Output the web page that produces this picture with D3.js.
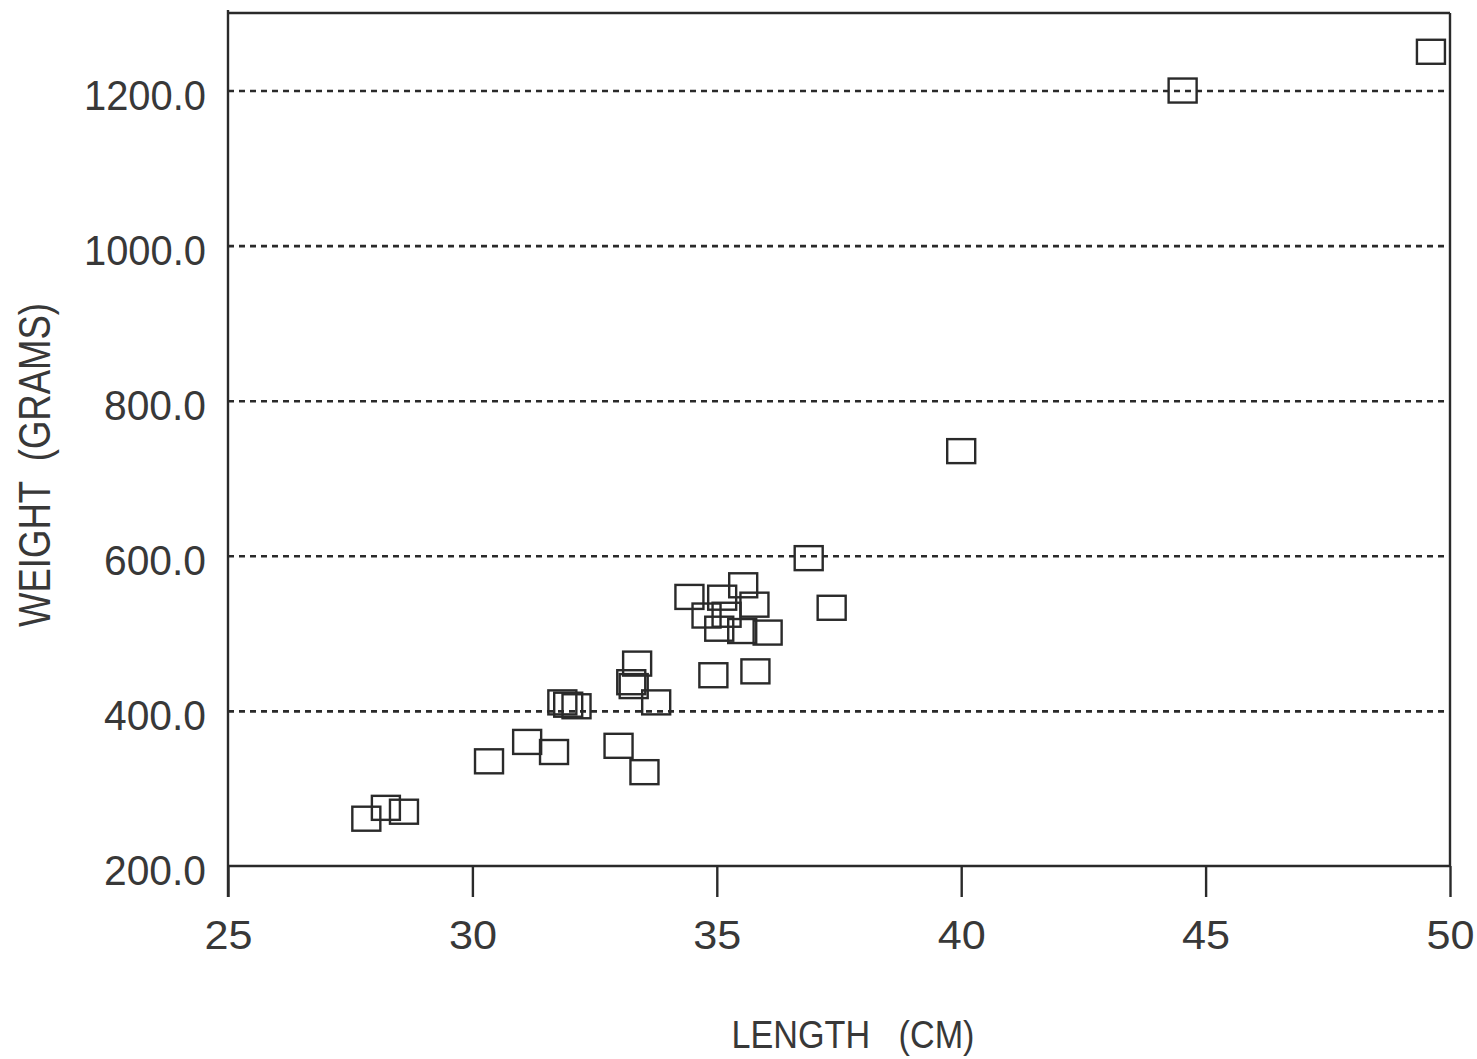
<!DOCTYPE html>
<html>
<head>
<meta charset="utf-8">
<script src="https://cdn.jsdelivr.net/npm/d3@7"></script>
<style>
  html, body { margin: 0; padding: 0; background: #ffffff; }
  svg { display: block; }
  text { font-family: "Liberation Sans", Arial, sans-serif; fill: #383838; white-space: pre; }
</style>
</head>
<body>
<svg id="chart" width="1477" height="1059"></svg>
<script>
// ---- data ----
const lengths = [49.61, 44.53, 40.00, 36.88, 37.35, 34.44, 35.54, 35.11, 34.79, 35.05, 35.77, 35.52, 36.04, 35.20,
                 34.93, 35.79, 33.37, 33.25, 33.30, 33.76, 31.84, 31.96, 32.13, 31.12, 31.67, 30.34, 32.99, 33.52,
                 27.83, 28.23, 28.60];
const weights = [1250, 1200, 735, 597, 533, 547, 562, 546, 523, 506, 537, 503, 501, 524,
                 446, 451, 461, 437, 432, 411, 411, 408, 406, 360, 347, 335, 355, 321,
                 261, 275, 270];
const xTicks = [25, 30, 35, 40, 45, 50];
const yTicks = [200, 400, 600, 800, 1000, 1200];
const gridTicks = [400, 600, 800, 1000, 1200];
const xTitle = "LENGTH   (CM)";
const yTitle = "WEIGHT  (GRAMS)";

(function () {
// ---- layout ----
const svg = d3.select("#chart");
const mLeft = 228, mRight = 1450, mTop = 13, mBottom = 866;
const x = d3.scaleLinear().domain([25, 50]).range([mLeft, mRight]);
const y = d3.scaleLinear().domain([200, 1300]).range([mBottom, mTop]);
const ink = "#2a2a2a";

// gridlines
const grid = svg.append("g").attr("transform", `translate(${mLeft},0)`)
  .call(d3.axisLeft(y).tickValues(gridTicks).tickSize(-(mRight - mLeft)).tickFormat(""));
grid.select(".domain").remove();
grid.selectAll(".tick line").attr("stroke", ink).attr("stroke-width", 2.6)
  .attr("stroke-dasharray", "6,5");

// x axis
const xa = svg.append("g").attr("transform", `translate(0,${mBottom})`)
  .call(d3.axisBottom(x).tickValues(xTicks).tickSize(31).tickPadding(24).tickFormat(d3.format("d")));
xa.select(".domain").attr("stroke", ink).attr("stroke-width", 2.4).attr("d", `M${mLeft},0H${mRight}`);
xa.selectAll(".tick line").attr("stroke", ink).attr("stroke-width", 2.4);
xa.selectAll(".tick text").attr("font-size", 40).attr("fill", "#383838")
  .attr("font-family", "'Liberation Sans', Arial, sans-serif")
  .attr("textLength", 48).attr("lengthAdjust", "spacingAndGlyphs");

// y axis
const ya = svg.append("g").attr("transform", `translate(${mLeft},0)`)
  .call(d3.axisLeft(y).tickValues(yTicks).tickSize(0).tickPadding(22).tickFormat(d3.format(".1f")));
ya.select(".domain").remove();
ya.selectAll(".tick text").attr("font-size", 42).attr("fill", "#383838")
  .attr("font-family", "'Liberation Sans', Arial, sans-serif")
  .attr("dy", "0.45em")
  .attr("textLength", d => d >= 1000 ? 122 : 102).attr("lengthAdjust", "spacingAndGlyphs");

// frame lines
const frame = svg.append("g").attr("stroke", ink).attr("stroke-width", 2.4).attr("fill", "none");
frame.append("line").attr("x1", x(25)).attr("x2", x(25)).attr("y1", y(1300) - 3).attr("y2", mBottom + 31);
frame.append("line").attr("x1", x(25)).attr("x2", x(50)).attr("y1", y(1300)).attr("y2", y(1300));
frame.append("line").attr("x1", x(50)).attr("x2", x(50)).attr("y1", y(1300)).attr("y2", mBottom);

// points (open squares)
const pts = lengths.map((l, i) => ({ l, w: weights[i] }));
const sw = 28, sh = 24;
svg.append("g").selectAll("rect").data(pts).enter().append("rect")
  .attr("x", d => x(d.l) - sw / 2)
  .attr("y", d => y(d.w) - sh / 2)
  .attr("width", sw).attr("height", sh)
  .attr("fill", "none").attr("stroke", ink).attr("stroke-width", 2.4);

// axis titles
svg.append("text").attr("x", 853).attr("y", 1048).attr("text-anchor", "middle")
  .attr("font-size", 39).attr("fill", "#444")
  .attr("textLength", 243).attr("lengthAdjust", "spacingAndGlyphs").text(xTitle);
svg.append("text").attr("transform", "translate(50,465) rotate(-90)").attr("text-anchor", "middle")
  .attr("font-size", 44).attr("fill", "#444")
  .attr("textLength", 324).attr("lengthAdjust", "spacingAndGlyphs").text(yTitle);
})();
</script>
</body>
</html>
